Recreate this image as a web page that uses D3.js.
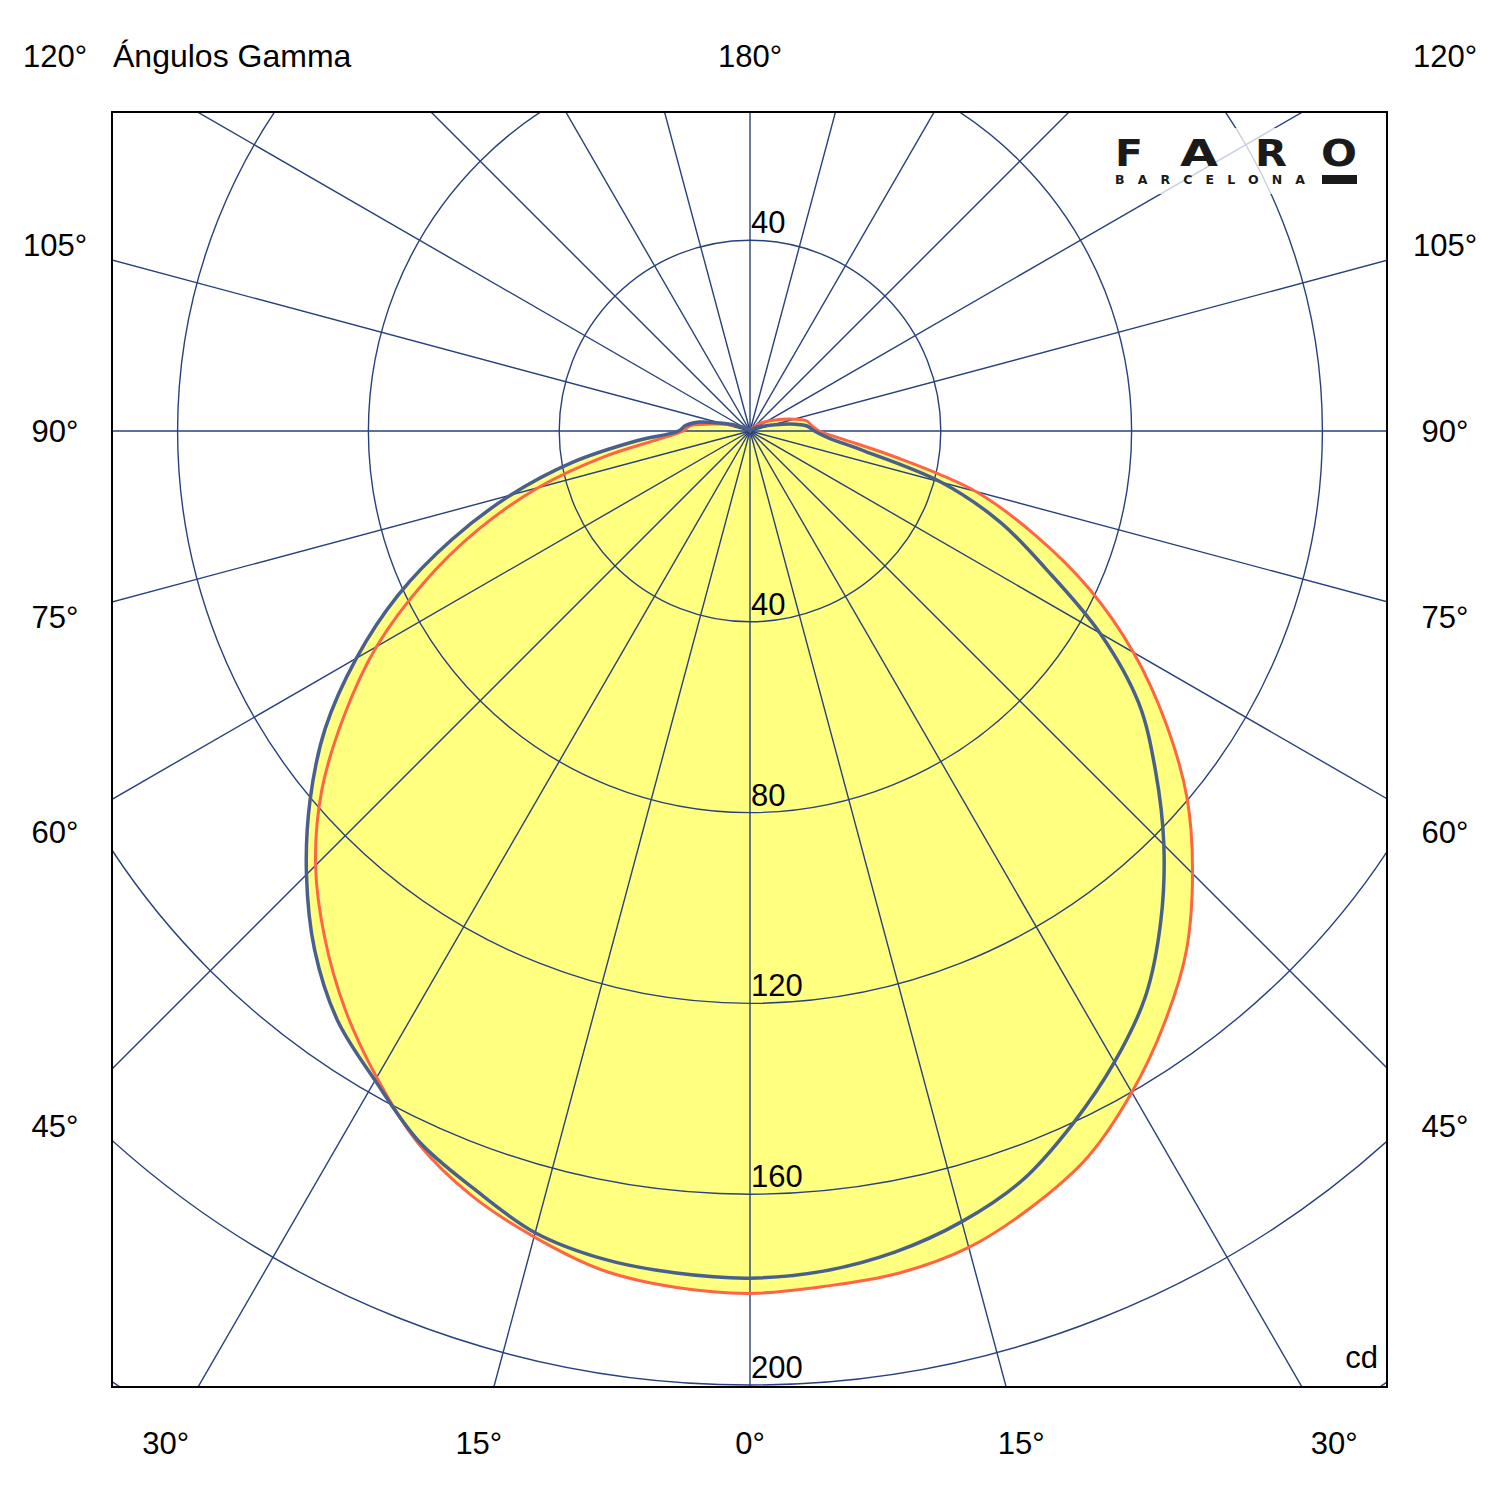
<!DOCTYPE html>
<html>
<head>
<meta charset="utf-8">
<title>Ángulos Gamma</title>
<script src="https://cdnjs.cloudflare.com/ajax/libs/d3/7.8.5/d3.min.js"></script>
<style>
body { margin: 0; background: #fff; }
svg text { font-family: "Liberation Sans", Arial, sans-serif; font-size: 31px; fill: #000; }
.grid { fill: none; stroke: #28417d; stroke-width: 1.4; }
.frame { fill: none; stroke: #000; stroke-width: 2; }
.fill { fill: #ffff80; stroke: none; }
.red { fill: none; stroke: #ff6446; stroke-width: 3; }
.blue { fill: none; stroke: #4a608c; stroke-width: 3.5; }
.logo { font-family: "DejaVu Sans", sans-serif; font-weight: bold; fill: #1a1a1a; }
</style>
</head>
<body>
<svg width="1500" height="1500"></svg>
<script>
// gamma angles (deg from nadir) and intensities in cd
var gammas = [0,5,10,15,20,25,30,35,40,45,50,55,60,65,70,75,80,85,90,95,100,105,110,120,135,150,165,180];
var c0   = [180.8,180.0,179.3,177.2,173.0,167.8,160.1,151.5,142.3,131.2,119.6,106.3,92.8,78.6,63.5,49.0,30.5,19.5,14.5,13.0,12.1,9.6,7.2,4.0,1.5,0.5,0.2,0];
var c180 = [180.8,180.2,178.6,174.9,170.6,164.7,156.5,148.0,138.7,128.8,117.2,103.8,90.4,75.6,60.8,46.0,31.0,19.0,14.0,12.6,8.3,5.5,3.5,1.5,0.5,0.2,0.1,0];
var c90  = [177.6,176.8,174.8,171.6,167.1,160.2,152.8,144.6,134.0,122.7,111.0,99.5,84.7,68.5,55.8,41.5,24.5,16.5,13.5,12.0,8.5,4.8,3.0,1.5,0.5,0.2,0.1,0];
var c270 = [177.6,177.2,176.3,174.0,169.1,164.3,157.2,150.8,142.0,131.5,120.4,108.7,95.3,81.4,66.5,52.0,37.8,24.0,15.0,13.5,10.8,6.5,4.0,1.5,0.5,0.2,0.1,0];

var rings = [40,80,120,160,200,240];
var ringLabels = [40,80,120,160,200];
var spokes = [0,15,30,45,60,75,90,105,120,135,150,165,180,195,210,225,240,255,270,285,300,315,330,345];
var sideLabels = [45,60,75,90,105,120];
var bottomLabels = [0,15,30];

var svg = d3.select("svg");
var cx = 750, cy = 431;
var x0 = 112, y0 = 112, x1 = 1387, y1 = 1387;
var r = d3.scaleLinear().domain([0, 200]).range([0, 954]);
var rad = Math.PI / 180;

svg.append("defs").append("clipPath").attr("id", "plot")
  .append("rect").attr("x", x0).attr("y", y0).attr("width", x1 - x0).attr("height", y1 - y0);

var plot = svg.append("g").attr("clip-path", "url(#plot)");
var g = plot.append("g").attr("transform", "translate(" + cx + "," + cy + ")");

// left half from 180 down to 0, then right half from 0 up (angle 0 = up in lineRadial)
function plane(left, right) {
  var pts = [];
  for (var i = gammas.length - 1; i >= 0; i--) pts.push([Math.PI + gammas[i] * rad, r(left[i])]);
  for (var j = 1; j < gammas.length - 1; j++) pts.push([Math.PI - gammas[j] * rad, r(right[j])]);
  return pts;
}
var line = d3.lineRadial().curve(d3.curveCatmullRomClosed.alpha(0.5));
var red = plane(c180, c0), blue = plane(c270, c90);

g.append("path").attr("class", "fill").attr("d", line(red));
g.append("path").attr("class", "fill").attr("d", line(blue));

g.selectAll(".spoke").data(spokes).enter().append("line")
  .attr("class", "grid")
  .attr("x1", 0).attr("y1", 0)
  .attr("x2", function(d) { return 1300 * Math.sin(d * rad); })
  .attr("y2", function(d) { return 1300 * Math.cos(d * rad); });

g.selectAll(".ring").data(rings).enter().append("circle")
  .attr("class", "grid")
  .attr("r", function(d) { return r(d); });

g.append("path").attr("class", "red").attr("d", line(red));
g.append("path").attr("class", "blue").attr("d", line(blue));

// ring values, below centre and above when it fits
ringLabels.forEach(function(v) {
  plot.append("text").attr("x", cx + 1).attr("y", cy + r(v) - 7).text(v);
  if (cy - r(v) - 30 > y0) plot.append("text").attr("x", cx + 1).attr("y", cy - r(v) - 7).text(v);
});

// angle labels round the frame
sideLabels.forEach(function(a) {
  var y = Math.max(56, cy + 695 / Math.tan(a * rad));
  [-1, 1].forEach(function(s) {
    svg.append("text").attr("x", cx + s * 695).attr("y", y + 11)
      .attr("text-anchor", "middle").text(a + "°");
  });
});
bottomLabels.forEach(function(a) {
  var sides = a === 0 ? [1] : [-1, 1];
  sides.forEach(function(s) {
    svg.append("text").attr("x", cx + s * 1012 * Math.tan(a * rad)).attr("y", 1443 + 11)
      .attr("text-anchor", "middle").text(a + "°");
  });
});
svg.append("text").attr("x", cx).attr("y", 56 + 11).attr("text-anchor", "middle").text("180°");
svg.append("text").attr("x", 113).attr("y", 67).style("font-size", "32px").text("Ángulos Gamma");
svg.append("text").attr("x", 1378).attr("y", 1368).attr("text-anchor", "end").text("cd");

svg.append("rect").attr("class", "frame")
  .attr("x", x0).attr("y", y0).attr("width", x1 - x0).attr("height", y1 - y0);

// logo
var logo = svg.append("g");
logo.append("rect").attr("x", 1105).attr("y", 128).attr("width", 262).attr("height", 66)
  .attr("fill", "#fff").attr("opacity", 0.75);
[["F", 1115, 28], ["A", 1180, 38], ["R", 1255, 32], ["O", 1321, 36]].forEach(function(l) {
  logo.append("text").attr("class", "logo").attr("x", l[1]).attr("y", 166)
    .attr("textLength", l[2]).attr("lengthAdjust", "spacingAndGlyphs")
    .style("font-size", "37px").text(l[0]);
});
logo.append("text").attr("class", "logo").attr("x", 1115).attr("y", 184)
  .attr("textLength", 190).attr("lengthAdjust", "spacing")
  .style("font-size", "12.5px").text("BARCELONA");
logo.append("rect").attr("x", 1322).attr("y", 175).attr("width", 35).attr("height", 9).attr("fill", "#1a1a1a");
</script>
</body>
</html>
